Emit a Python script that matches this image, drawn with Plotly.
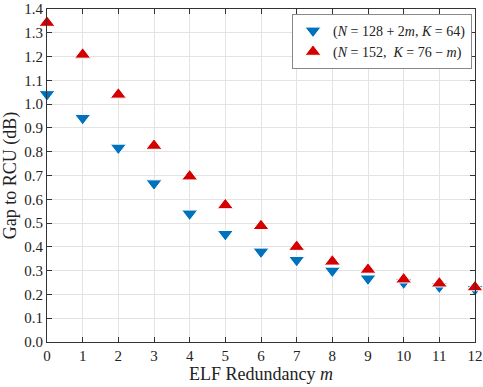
import plotly.graph_objects as go

m = list(range(13))
gap_blue = [1.042, 0.942, 0.817, 0.667, 0.54, 0.454, 0.38, 0.345, 0.30, 0.267, 0.25, 0.233, 0.222]
gap_red = [1.342, 1.208, 1.04, 0.825, 0.696, 0.575, 0.4875, 0.40, 0.338, 0.304, 0.263, 0.246, 0.23]
name_blue = "(<i>N</i> = 128 + 2<i>m</i>, <i>K</i> = 64)"
name_red = "(<i>N</i> = 152,  <i>K</i> = 76 − <i>m</i>)"

font = "Liberation Serif"

fig = go.Figure()
fig.add_trace(go.Scatter(
    x=m, y=gap_blue, mode="markers", name=name_blue, cliponaxis=False,
    marker=dict(symbol="triangle-down", size=14, color="#0072BD",
                line=dict(color="white", width=1)),
))
fig.add_trace(go.Scatter(
    x=m, y=gap_red, mode="markers", name=name_red, cliponaxis=False,
    marker=dict(symbol="triangle-up", size=14, color="#D40000",
                line=dict(color="white", width=1)),
))

axis_style = dict(
    showline=True, linecolor="#333", linewidth=1, mirror="ticks",
    ticks="inside", ticklen=5, tickcolor="#333",
    showgrid=True, gridcolor="#e3e3e3", gridwidth=1, zeroline=False,
    automargin=False, ticklabeloverflow="allow",
    tickfont=dict(family=font, size=15, color="#222"),
)

fig.update_layout(
    width=483, height=387,
    margin=dict(l=47, r=8, t=9, b=45),
    paper_bgcolor="white", plot_bgcolor="white",
    font=dict(family=font, size=15, color="#222"),
    showlegend=True,
    legend=dict(x=0.993, xanchor="right", y=0.985, yanchor="top",
                bordercolor="#888", borderwidth=1, bgcolor="white",
                font=dict(family=font, size=14), tracegroupgap=0,
                itemwidth=30),
    xaxis=dict(range=[0, 12], dtick=1,
               title=dict(text="ELF Redundancy <i>m</i>", standoff=4), **axis_style),
    yaxis=dict(range=[0, 1.4], dtick=0.1, tickformat=".1f",
               title=dict(text="Gap to RCU (dB)", standoff=4), **axis_style),
)

fig.write_html("out.html", config={"displayModeBar": False},
               post_script="document.body.style.margin='0';")
